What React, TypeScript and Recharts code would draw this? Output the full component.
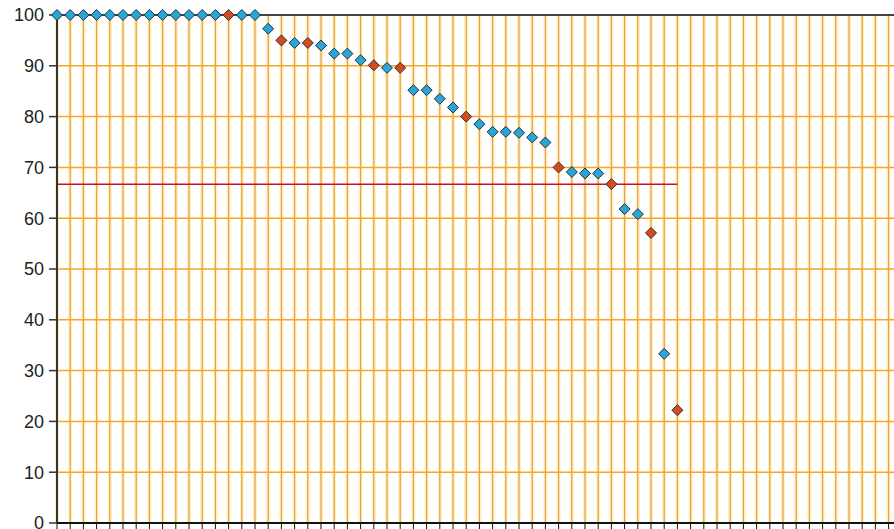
import {
  ScatterChart,
  Scatter,
  XAxis,
  YAxis,
  CartesianGrid,
  ReferenceLine,
} from 'recharts';

// score of each item, sorted high to low
const scores = [
  100, 100, 100, 100, 100, 100, 100, 100, 100, 100, 100, 100, 100, 100, 100, 100,
  97.3, 95.0, 94.5, 94.5, 94.0, 92.4, 92.4, 91.1, 90.1, 89.6, 89.6, 85.2, 85.2,
  83.5, 81.8, 80.0, 78.5, 77.0, 77.0, 76.8, 75.9, 74.9, 70.0, 69.1, 68.8, 68.8,
  66.7, 61.8, 60.8, 57.1, 33.3, 22.2,
];

// positions drawn in red instead of blue
const flagged = [13, 17, 19, 24, 26, 31, 38, 42, 45, 47];

const threshold = 66.7;
const slotCount = 70; // axis keeps going past the visible edge
const yTicks = [0, 10, 20, 30, 40, 50, 60, 70, 80, 90, 100];
const xTicks = Array.from({ length: slotCount + 1 }, (_, i) => i);

const BLUE = '#2aa6d6';
const RED = '#d9491c';

const data = scores.map((v, i) => ({ x: i, y: v, hot: flagged.includes(i) }));

function Diamond(props: any) {
  const { cx, cy, payload } = props;
  if (cx == null || cy == null) return null;
  const r = 5.5;
  return (
    <polygon
      points={`${cx},${cy - r} ${cx + r},${cy} ${cx},${cy + r} ${cx - r},${cy}`}
      fill={payload.hot ? RED : BLUE}
      stroke="#23323a"
      strokeWidth={1}
    />
  );
}

export default function App() {
  return (
    <div
      style={{
        position: 'absolute',
        left: 0,
        top: 0,
        width: 894,
        height: 529,
        overflow: 'hidden',
        background: '#fff',
        fontFamily: '"Liberation Sans", Arial, sans-serif',
      }}
    >
      <ScatterChart
        width={981}
        height={529}
        margin={{ top: 15, right: 0, bottom: 0, left: 0 }}
      >
        {/* soft yellow halo next to the vertical lines */}
        <CartesianGrid horizontal={false} stroke="#fff3c4" strokeWidth={4} />
        <CartesianGrid horizontal={false} stroke="#e9a24a" strokeWidth={1.3} />
        <CartesianGrid vertical={false} stroke="#f7a428" strokeWidth={1.5} />
        <XAxis
          type="number"
          dataKey="x"
          domain={[0, slotCount]}
          ticks={xTicks}
          interval={0}
          tickFormatter={() => ''}
          tickSize={6}
          height={6}
          axisLine={{ stroke: '#111', strokeWidth: 2 }}
          tickLine={{ stroke: '#111', strokeWidth: 1 }}
        />
        <YAxis
          type="number"
          dataKey="y"
          domain={[0, 100]}
          ticks={yTicks}
          interval={0}
          width={57}
          tickSize={8}
          tickMargin={5}
          tick={{ fontSize: 18, fill: '#222' }}
          axisLine={{ stroke: '#333', strokeWidth: 2 }}
          tickLine={{ stroke: '#333', strokeWidth: 1.5 }}
        />
        <ReferenceLine y={100} stroke="#444" strokeWidth={2} />
        <ReferenceLine
          segment={[
            { x: 0, y: threshold },
            { x: scores.length - 1, y: threshold },
          ]}
          stroke="#c8102e"
          strokeWidth={1.5}
        />
        <Scatter data={data} shape={Diamond} isAnimationActive={false} />
      </ScatterChart>
    </div>
  );
}
